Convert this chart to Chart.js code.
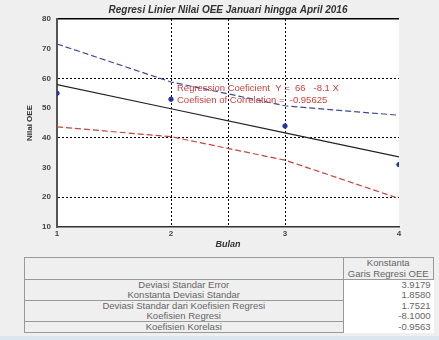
<!DOCTYPE html>
<html>
<head>
<meta charset="utf-8">
<script src="https://cdn.jsdelivr.net/npm/chart.js@4/dist/chart.umd.min.js"></script>
<style>
    html, body { margin: 0; padding: 0; }
    body { width: 439px; height: 340px; background: #efefef; position: relative; overflow: hidden; font-family: "Liberation Sans", Arial, sans-serif; }
    #wrap { position: absolute; left: 0; top: 0; width: 439px; height: 250px; }
    #tbl { position: absolute; left: 24px; top: 257px; width: 410px; border-collapse: collapse; font-size: 9.5px; color: #666; }
    #tbl td { padding: 0 3px; height: 10px; line-height: 10px; }
    #tbl td.lab { text-align: center; border-left: 1px solid #999; border-right: 1px solid #999; }
    #tbl td.val { text-align: right; background: #fff; width: 84px; }
    #tbl tr.sep td.lab { border-bottom: 1px solid #999; }
    #tbl tr.head td { height: 21px; line-height: 10.5px; border: 1px solid #999; }
    #strip { position: absolute; left: 0; top: 336px; width: 439px; height: 4px; background: #dce6ef; }
</style>
</head>
<body>
<div id="wrap"><canvas id="regChart" width="439" height="250"></canvas></div>
<table id="tbl"></table>
<div id="strip"></div>
<script>
// data
const months = [1, 2, 3, 4];
const oeeValues = [55, 53, 44, 31];
const regLine = [57.9, 49.8, 41.7, 33.6];
const upperBand = [71.6, 58.8, 50.8, 47.6];
const lowerBand = [43.7, 40.4, 32.5, 19.6];
const yTicks = [10, 20, 30, 40, 50, 60, 70, 80];
const xTicks = [1, 2, 2.5, 3, 4];

const chartTitle = "Regresi Linier Nilai OEE Januari hingga April 2016";
const legendLines = ["Regression Coeficient  Y =  66   -8.1 X", "Coefisien of Correlation =  -0.95625"];

const tableHeader = ["Konstanta", "Garis Regresi OEE"];
const tableLabels = ["Deviasi Standar Error", "Konstanta Deviasi Standar", "Deviasi Standar dari Koefisien Regresi", "Koefisien Regresi", "Koefisien Korelasi"];
const tableValues = ["3.9179", "1.8580", "1.7521", "-8.1000", "-0.9563"];

function pts(ys) {
    return months.map((m, i) => ({ x: m, y: ys[i] }));
}

// table below the chart
let tbl = document.getElementById("tbl");
let html = '<tr class="head"><td></td><td style="text-align:center;width:84px;padding:0">' + tableHeader.join("<br>") + '</td></tr>';
tableLabels.forEach((lab, i) => {
    let sep = (i === 1 || i === 3 || i === 4) ? ' class="sep"' : '';
    html += '<tr' + sep + '><td class="lab">' + lab + '</td><td class="val">' + tableValues[i] + '</td></tr>';
});
tbl.innerHTML = html;

const plotBg = {
    id: 'plotBg',
    beforeDraw(chart) {
        let a = chart.chartArea;
        let ctx = chart.ctx;
        ctx.save();
        ctx.fillStyle = '#ffffff';
        ctx.fillRect(a.left, a.top, a.right - a.left, a.bottom - a.top);
        ctx.restore();
    }
};

// title centred over the plot area, like the original figure
const plotTitle = {
    id: 'plotTitle',
    afterDraw(chart) {
        let a = chart.chartArea;
        let ctx = chart.ctx;
        ctx.save();
        ctx.font = 'italic bold 10px "Liberation Sans", Arial, sans-serif';
        ctx.fillStyle = '#333';
        ctx.textAlign = 'center';
        ctx.textBaseline = 'middle';
        ctx.fillText(chartTitle, (a.left + a.right) / 2, 10);
        ctx.restore();
    }
};

const legendText = {
    id: 'legendText',
    afterDatasetsDraw(chart) {
        let ctx = chart.ctx;
        let x = chart.scales.x.getPixelForValue(2) + 6;
        let y = chart.scales.y.getPixelForValue(56.5);
        ctx.save();
        ctx.font = '9.5px "Liberation Sans", Arial, sans-serif';
        ctx.fillStyle = '#c8433f';
        ctx.textBaseline = 'middle';
        legendLines.forEach((t, i) => ctx.fillText(t, x, y + i * 12));
        ctx.restore();
    }
};

let gridColor = (ctx, vals) => vals.includes(ctx.tick && ctx.tick.value) ? '#000' : 'rgba(0,0,0,0)';

let ctx = document.getElementById("regChart").getContext("2d");
new Chart(ctx, {
    type: 'line',
    data: {
        datasets: [{
            label: 'Batas Atas',
            data: pts(upperBand),
            borderColor: '#3a4a9c',
            borderWidth: 1.2,
            borderDash: [6, 3],
            pointRadius: 0,
            tension: 0
        }, {
            label: 'Garis Regresi',
            data: pts(regLine),
            borderColor: '#222222',
            borderWidth: 1.2,
            pointRadius: 0,
            tension: 0
        }, {
            label: 'Batas Bawah',
            data: pts(lowerBand),
            borderColor: '#c8433f',
            borderWidth: 1.2,
            borderDash: [6, 3],
            pointRadius: 0,
            tension: 0
        }, {
            label: 'Nilai OEE',
            data: pts(oeeValues),
            showLine: false,
            pointRadius: 2.2,
            pointBackgroundColor: '#2233a8',
            pointBorderColor: '#2233a8'
        }]
    },
    options: {
        responsive: false,
        animation: false,
        layout: { padding: { left: 0, right: 40, top: 19, bottom: 0 } },
        plugins: {
            legend: { display: false },
            tooltip: { enabled: false },
            title: { display: false }
        },
        scales: {
            x: {
                type: 'linear',
                min: 1,
                max: 4,
                afterBuildTicks: (scale) => { scale.ticks = xTicks.map(v => ({ value: v })); },
                afterFit: (scale) => { scale.height = 23; },
                ticks: {
                    color: '#444',
                    font: { size: 8, weight: 'bold' },
                    padding: 2,
                    maxRotation: 0,
                    callback: (v) => Number.isInteger(v) ? v : ''
                },
                grid: {
                    drawTicks: false,
                    color: (c) => gridColor(c, [2, 2.5, 3]),
                    lineWidth: 1
                },
                border: { display: true, color: '#333', width: 1.5, dash: [2, 2] },
                title: {
                    display: true,
                    text: 'Bulan',
                    color: '#333',
                    font: { size: 9, weight: 'bold', style: 'italic' },
                    padding: { top: 0, bottom: 0 }
                }
            },
            y: {
                min: 10,
                max: 80,
                afterBuildTicks: (scale) => { scale.ticks = yTicks.map(v => ({ value: v })); },
                afterFit: (scale) => { scale.width = 57; },
                ticks: {
                    color: '#444',
                    font: { size: 8, weight: 'bold' },
                    padding: 6
                },
                grid: {
                    drawTicks: false,
                    color: (c) => gridColor(c, [20, 40, 60, 80]),
                    lineWidth: (c) => c.tick && c.tick.value === 80 ? 1.5 : 1
                },
                border: {
                    display: true,
                    color: '#555',
                    width: 2,
                    dash: (c) => c.tick && c.tick.value === 80 ? [] : [2, 2]
                },
                title: {
                    display: true,
                    text: 'Nilai OEE',
                    color: '#333',
                    font: { size: 8, weight: 'bold' },
                    padding: { top: 25, bottom: 0 }
                }
            }
        }
    },
    plugins: [plotBg, plotTitle, legendText]
});
</script>
</body>
</html>
